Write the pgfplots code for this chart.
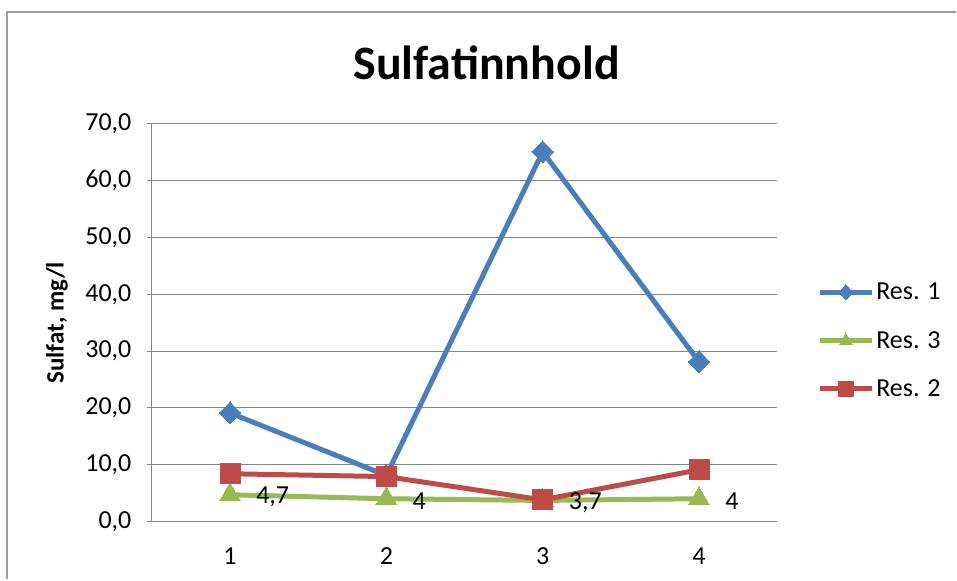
\documentclass[border=0pt]{standalone}
\usepackage{fontspec}
\setmainfont{Carlito}
\usepackage{pgfplots}
\pgfplotsset{compat=1.18}
\definecolor{cblue}{HTML}{4A7EBB}
\definecolor{cred}{HTML}{BE4B48}
\definecolor{cgreen}{HTML}{98B954}
\definecolor{cgrid}{HTML}{868686}
\begin{document}
\begin{tikzpicture}[x=1pt,y=1pt]
\path (0,0) rectangle (957,580);
\draw[color=cgrid!80, line width=2pt] (7,0) -- (7,568) -- (957,568);
\node[font=\fontsize{48}{52}\selectfont\bfseries, anchor=base] at (487,500) {Sulfatinnhold};
\begin{axis}[
  at={(152pt,58pt)}, anchor=south west,
  scale only axis, width=626pt, height=398pt,
  xmin=0.5, xmax=4.5, ymin=0, ymax=70,
  xtick={1,2,3,4}, ytick={0,10,...,70},
  axis lines=left, axis line style={-, cgrid, line width=1pt},
  tick align=outside,
  major tick length=5pt,
  y tick style={cgrid, line width=1pt},
  x tick style={draw=none},
  ymajorgrids, grid style={cgrid, line width=1pt},
  ticklabel style={font=\fontsize{26}{30}\selectfont, /pgf/number format/assume math mode=true},
  yticklabel style={/pgf/number format/.cd, fixed, fixed zerofill, precision=1, use comma, assume math mode=true, /tikz/.cd, xshift=-12pt},
  xticklabel style={yshift=-18pt},
  ylabel={Sulfat, mg/l},
  every axis y label/.style={at={(axis description cs:-0.1518,0.5)}, rotate=90, anchor=center, font=\fontsize{25}{28}\selectfont\bfseries},
  legend style={at={(axis description cs:1,0.455)}, anchor=west, xshift=40pt, draw=none, fill=none,
    font=\fontsize{26}{30}\selectfont, row sep=26pt, inner sep=0pt},
  legend cell align=left,
  legend image code/.code={\draw[mark repeat=2,mark phase=2,#1,mark size=7.5pt] plot coordinates {(0pt,0pt) (26pt,0pt) (52pt,0pt)};},
  clip=false,
]
\addplot[cblue, line width=5pt, mark=diamond*, mark size=11pt, mark options={solid, fill=cblue, draw=cblue, line width=0pt, xscale=1.3}]
  coordinates {(1,19.1) (2,8.1) (3,65.1) (4,28.1)};
\addlegendentry{Res. 1}
\addplot[cgreen, line width=5pt, mark=triangle*, mark size=12pt, mark options={solid, fill=cgreen, draw=cgreen, line width=0pt},
  point meta=explicit symbolic, nodes near coords,
  nodes near coords style={anchor=west, xshift=23pt, yshift=-2pt, black, font=\fontsize{26}{30}\selectfont}]
  coordinates {(1,4.7)[4,7] (2,4)[4] (3,3.7)[3,7] (4,4)[4]};
\addlegendentry{Res. 3}
\addplot[cred, line width=5pt, mark=square*, mark size=10pt, mark options={solid, fill=cred, draw=cred, line width=0pt}]
  coordinates {(1,8.4) (2,7.9) (3,3.8) (4,9.1)};
\addlegendentry{Res. 2}
\end{axis}
\end{tikzpicture}
\end{document}
